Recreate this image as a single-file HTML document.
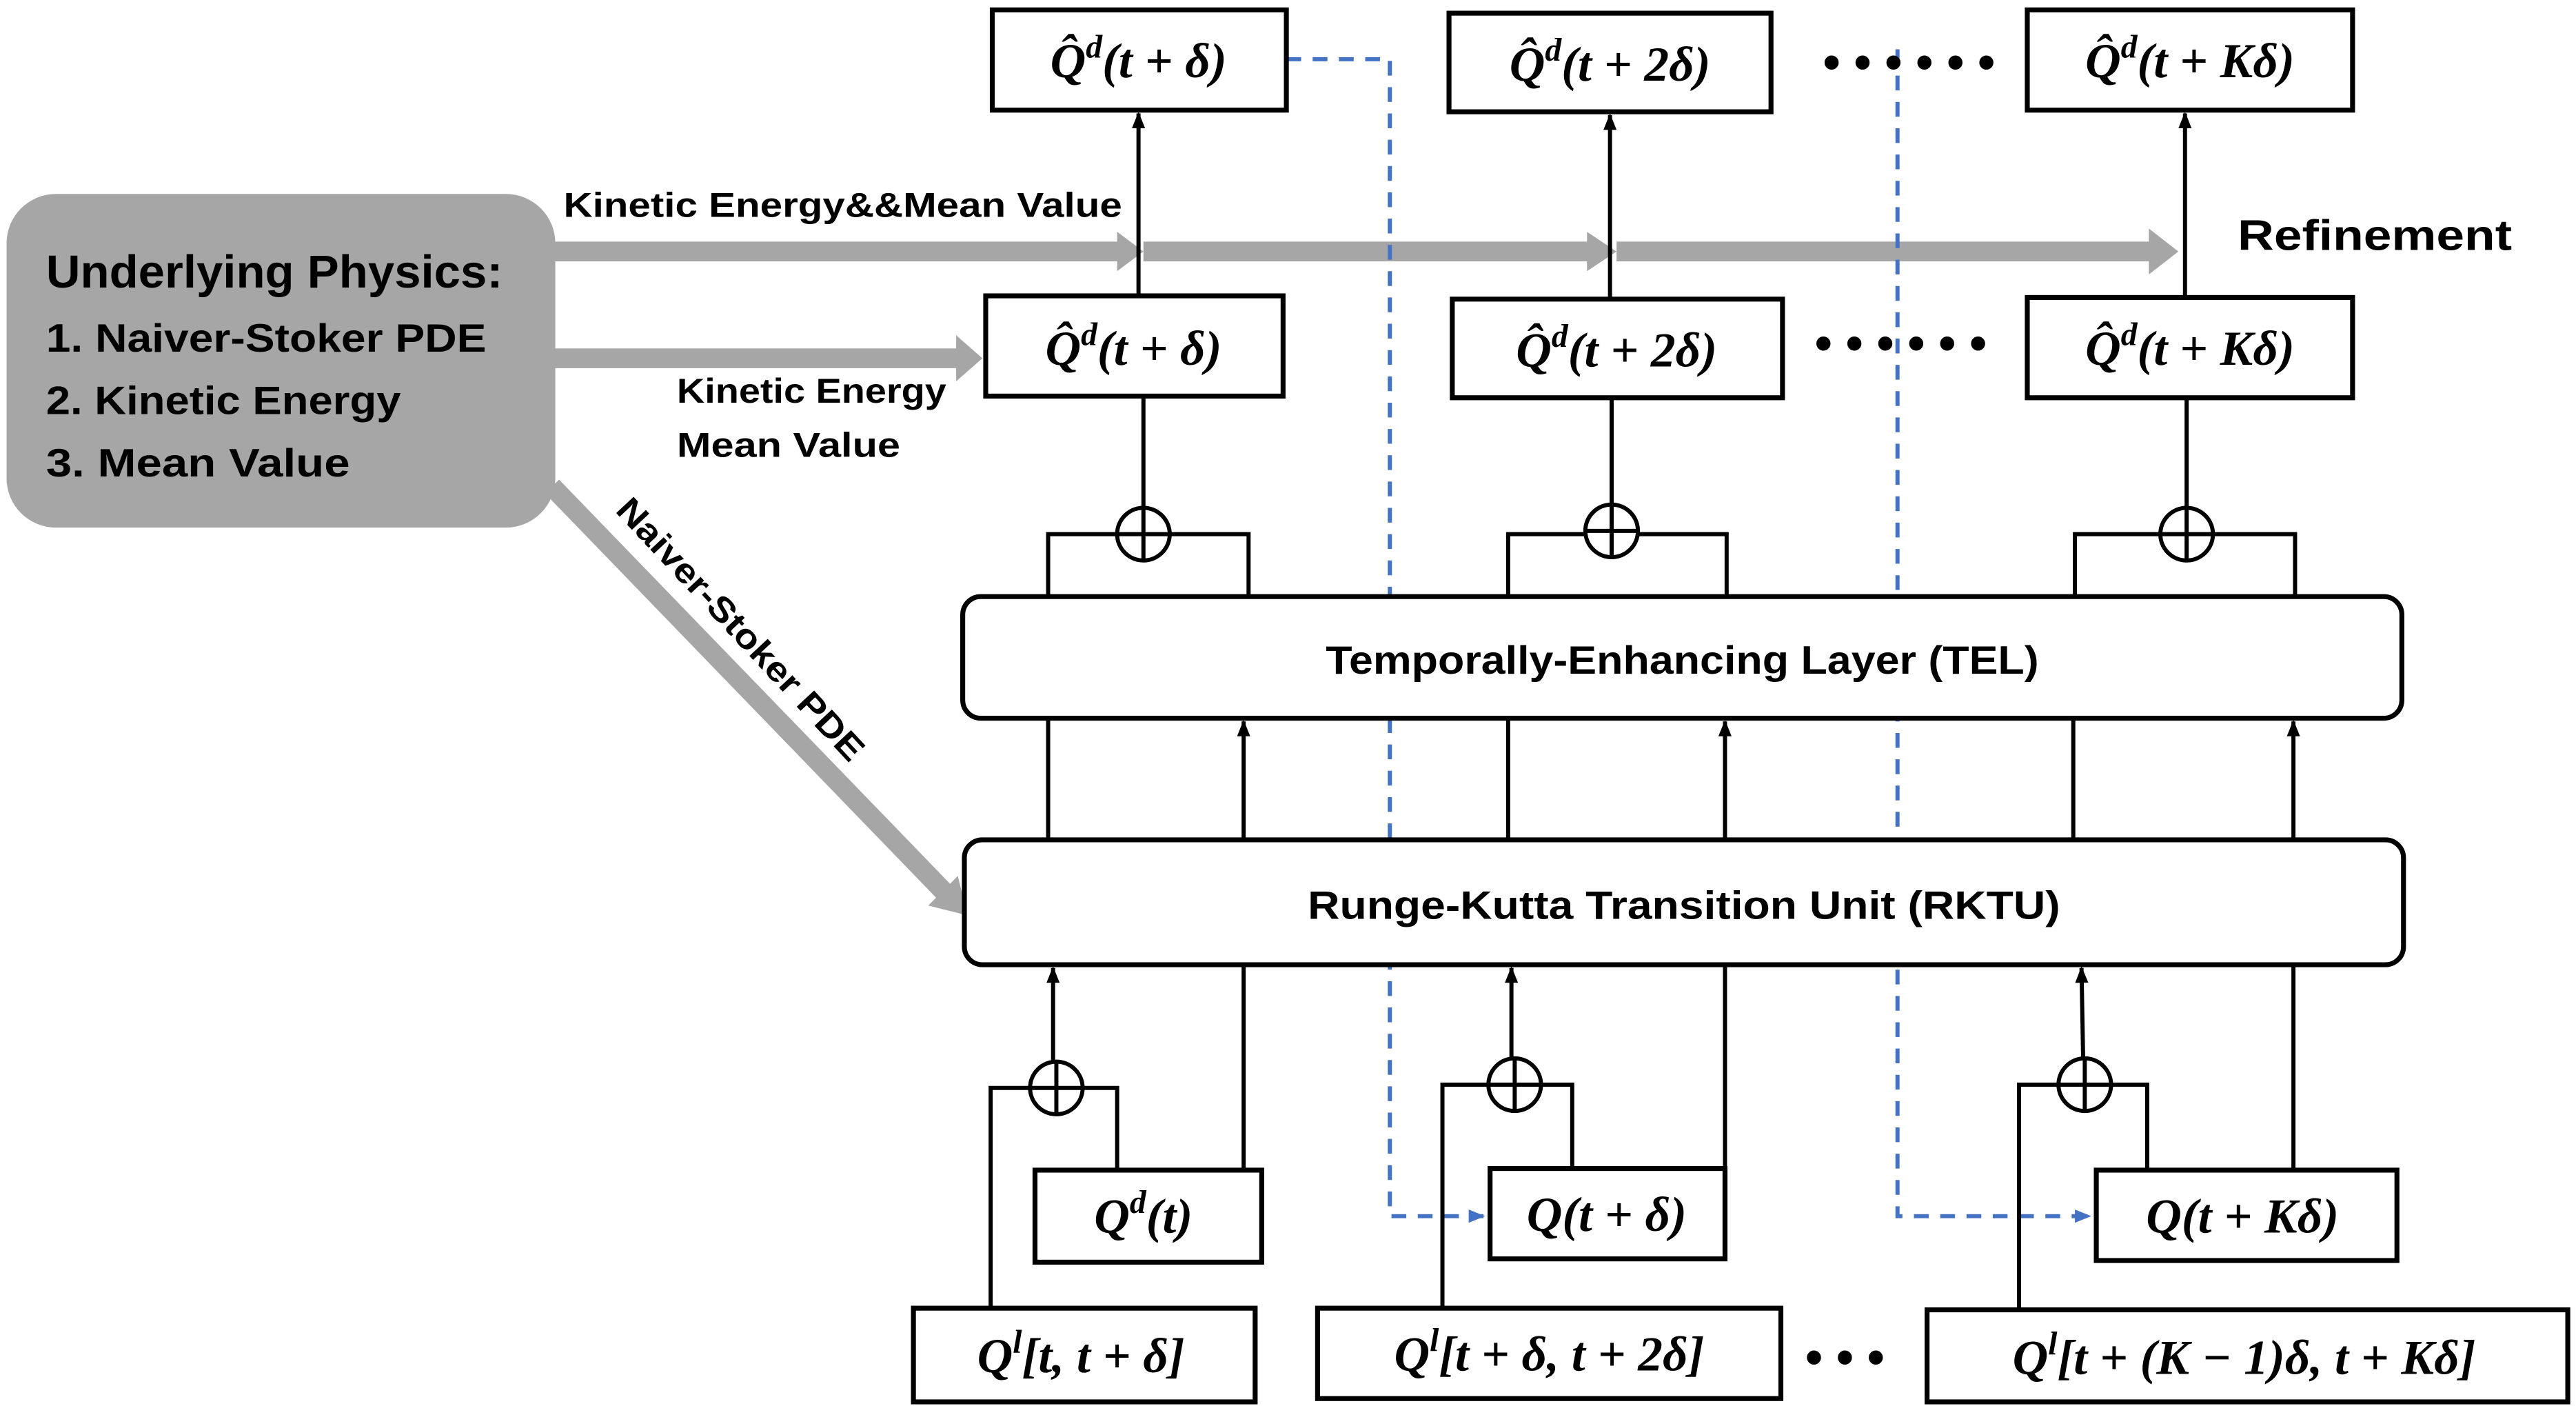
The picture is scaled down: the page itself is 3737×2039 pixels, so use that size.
<!DOCTYPE html>
<html><head><meta charset="utf-8"><style>
html,body{margin:0;padding:0;background:#fff;}
svg{display:block;}
.s{font-family:"Liberation Sans","DejaVu Sans",sans-serif;font-weight:bold;fill:#000;}
.m{font-family:"Liberation Serif","DejaVu Serif",serif;font-weight:bold;font-style:italic;fill:#000;font-size:30px;}
.b{fill:#fff;stroke:#000;stroke-width:3;}
.l{stroke:#000;stroke-width:2.5;fill:none;}
</style></head><body>
<svg width="3737" height="2039" viewBox="0 0 1568 855.5" xmlns="http://www.w3.org/2000/svg">
<defs>
<marker id="a" markerWidth="10" markerHeight="10" refX="9" refY="5" orient="auto" markerUnits="userSpaceOnUse"><path d="M0,1 L10,5 L0,9 Z" fill="#000"/></marker>
<marker id="bl" markerWidth="10" markerHeight="10" refX="9" refY="5" orient="auto" markerUnits="userSpaceOnUse"><path d="M0,1 L10,5 L0,9 Z" fill="#4472c4"/></marker>
</defs>
<!-- gray arrows -->
<g fill="#a6a6a6">
<rect x="330" y="147" width="352" height="12"/>
<path d="M680,141 L696,153 L680,165 Z"/>
<rect x="696" y="147" width="272" height="12"/>
<path d="M966,141 L984,153 L966,165 Z"/>
<rect x="984" y="147" width="326" height="12"/>
<path d="M1308,139 L1326,153 L1308,167 Z"/>
<rect x="330" y="212" width="254" height="12"/>
<path d="M582,204 L598,218 L582,232 Z"/>
<line x1="336" y1="296" x2="576" y2="544" stroke="#a6a6a6" stroke-width="12"/>
<path d="M565,551 L583,533 L589,557 Z"/>
<rect x="4" y="118" width="334" height="203" rx="30" ry="30"/>
</g>
<text class="s" x="28" y="175" font-size="28" textLength="278" lengthAdjust="spacingAndGlyphs">Underlying Physics:</text>
<text class="s" x="28" y="214" font-size="24" textLength="268" lengthAdjust="spacingAndGlyphs">1. Naiver-Stoker PDE</text>
<text class="s" x="28" y="252" font-size="24" textLength="216" lengthAdjust="spacingAndGlyphs">2. Kinetic Energy</text>
<text class="s" x="28" y="290" font-size="24" textLength="185" lengthAdjust="spacingAndGlyphs">3. Mean Value</text>
<text class="s" x="343" y="132" font-size="21" textLength="340" lengthAdjust="spacingAndGlyphs">Kinetic Energy&amp;&amp;Mean Value</text>
<text class="s" x="412" y="245" font-size="21" textLength="164" lengthAdjust="spacingAndGlyphs">Kinetic Energy</text>
<text class="s" x="412" y="278" font-size="21" textLength="136" lengthAdjust="spacingAndGlyphs">Mean Value</text>
<text class="s" x="1362" y="152" font-size="26" textLength="167" lengthAdjust="spacingAndGlyphs">Refinement</text>
<text class="s" font-size="21" transform="translate(374,311) rotate(47)" textLength="210" lengthAdjust="spacingAndGlyphs">Naiver-Stoker PDE</text>

<!-- dashed blue -->
<path d="M783,36 H846 V740 H903" stroke="#4472c4" stroke-width="2.5" stroke-dasharray="9,7" fill="none" marker-end="url(#bl)"/>
<path d="M1155,30 V740 H1272" stroke="#4472c4" stroke-width="2.5" stroke-dasharray="9,7" fill="none" marker-end="url(#bl)"/>

<!-- top boxes -->
<rect class="b" x="604" y="6" width="179" height="61"/>
<text class="m" x="693" y="47" text-anchor="middle">Q̂<tspan font-size="20" dy="-12">d</tspan><tspan dy="12">(t + δ)</tspan></text>
<rect class="b" x="882" y="8" width="196" height="60"/>
<text class="m" x="980" y="49" text-anchor="middle">Q̂<tspan font-size="20" dy="-12">d</tspan><tspan dy="12">(t + 2δ)</tspan></text>
<rect class="b" x="1234" y="6" width="198" height="61"/>
<text class="m" x="1333" y="47" text-anchor="middle">Q̂<tspan font-size="20" dy="-12">d</tspan><tspan dy="12">(t + Kδ)</tspan></text>
<text x="1162" y="48" font-size="30" text-anchor="middle" font-family="Liberation Sans" font-weight="bold">• • • • • •</text>

<rect class="b" x="600" y="180" width="181" height="61"/>
<text class="m" x="690" y="222" text-anchor="middle">Q̂<tspan font-size="20" dy="-12">d</tspan><tspan dy="12">(t + δ)</tspan></text>
<rect class="b" x="884" y="182" width="201" height="60"/>
<text class="m" x="984" y="223" text-anchor="middle">Q̂<tspan font-size="20" dy="-12">d</tspan><tspan dy="12">(t + 2δ)</tspan></text>
<rect class="b" x="1234" y="181" width="198" height="61"/>
<text class="m" x="1333" y="222" text-anchor="middle">Q̂<tspan font-size="20" dy="-12">d</tspan><tspan dy="12">(t + Kδ)</tspan></text>
<text x="1157" y="219" font-size="30" text-anchor="middle" font-family="Liberation Sans" font-weight="bold">• • • • • •</text>

<!-- vertical arrows between rows -->
<line class="l" x1="693" y1="180" x2="693" y2="69" marker-end="url(#a)"/>
<line class="l" x1="980" y1="182" x2="980" y2="70" marker-end="url(#a)"/>
<line class="l" x1="1330" y1="181" x2="1330" y2="69" marker-end="url(#a)"/>

<!-- upper oplus groups -->
<g class="l">
<path d="M638,363 V325 H760 V363"/><line x1="696" y1="241" x2="696" y2="309"/>
<path d="M918,363 V325 H1051 V363"/><line x1="981" y1="242" x2="981" y2="307"/>
<path d="M1263,363 V325 H1397 V363"/><line x1="1331" y1="242" x2="1331" y2="309"/>
</g>
<g class="l" fill="#fff">
<circle cx="696" cy="325" r="16" fill="#fff"/><path d="M680,325 H712 M696,309 V341"/>
<circle cx="981" cy="323" r="16" fill="#fff"/><path d="M965,323 H997 M981,307 V339"/>
<circle cx="1331" cy="325" r="16" fill="#fff"/><path d="M1315,325 H1347 M1331,309 V341"/>
</g>

<rect class="b" x="586" y="363" width="876" height="74" rx="11"/>
<text class="s" x="1024" y="410" font-size="24" text-anchor="middle" textLength="434" lengthAdjust="spacingAndGlyphs">Temporally-Enhancing Layer (TEL)</text>
<rect class="b" x="587" y="511" width="876" height="76" rx="11"/>
<text class="s" x="1025" y="559" font-size="24" text-anchor="middle" textLength="458" lengthAdjust="spacingAndGlyphs">Runge-Kutta Transition Unit (RKTU)</text>

<!-- between TEL and RKTU -->
<g class="l">
<line x1="638" y1="511" x2="638" y2="437"/>
<line x1="757" y1="511" x2="757" y2="439" marker-end="url(#a)"/>
<line x1="918" y1="511" x2="918" y2="437"/>
<line x1="1050" y1="511" x2="1050" y2="439" marker-end="url(#a)"/>
<line x1="1262" y1="511" x2="1262" y2="437"/>
<line x1="1396" y1="511" x2="1396" y2="439" marker-end="url(#a)"/>
</g>

<!-- lower -->
<g class="l">
<line x1="641" y1="646" x2="641" y2="589" marker-end="url(#a)"/>
<path d="M603,796 V662 H680 V712"/>
<line x1="757" y1="587" x2="757" y2="712"/>
<line x1="920" y1="644" x2="920" y2="589" marker-end="url(#a)"/>
<path d="M878,796 V660 H957 V711"/>
<line x1="1050" y1="587" x2="1050" y2="711"/>
<line x1="1268" y1="644" x2="1267" y2="589" marker-end="url(#a)"/>
<path d="M1229,797 V660 H1307 V712"/>
<line x1="1396" y1="587" x2="1396" y2="712"/>
</g>
<g class="l">
<circle cx="643" cy="662" r="16" fill="#fff"/><path d="M627,662 H659 M643,646 V678"/>
<circle cx="922" cy="660" r="16" fill="#fff"/><path d="M906,660 H938 M922,644 V676"/>
<circle cx="1269" cy="660" r="16" fill="#fff"/><path d="M1253,660 H1285 M1269,644 V676"/>
</g>

<rect class="b" x="630" y="712" width="138" height="56"/>
<text class="m" x="696" y="750" text-anchor="middle">Q<tspan font-size="20" dy="-12">d</tspan><tspan dy="12">(t)</tspan></text>
<rect class="b" x="907" y="711" width="143" height="55"/>
<text class="m" x="978" y="749" text-anchor="middle">Q(t + δ)</text>
<rect class="b" x="1276" y="712" width="183" height="55"/>
<text class="m" x="1365" y="750" text-anchor="middle">Q(t + Kδ)</text>

<rect class="b" x="556" y="796" width="208" height="57"/>
<text class="m" x="658" y="835" text-anchor="middle">Q<tspan font-size="20" dy="-12">l</tspan><tspan dy="12">[t, t + δ]</tspan></text>
<rect class="b" x="802" y="796" width="282" height="55"/>
<text class="m" x="943" y="834" text-anchor="middle">Q<tspan font-size="20" dy="-12">l</tspan><tspan dy="12">[t + δ, t + 2δ]</tspan></text>
<rect class="b" x="1173" y="797" width="390" height="56"/>
<text class="m" x="1366" y="836" text-anchor="middle">Q<tspan font-size="20" dy="-12">l</tspan><tspan dy="12">[t + (K − 1)δ, t + Kδ]</tspan></text>
<text x="1123" y="836" font-size="30" text-anchor="middle" font-family="Liberation Sans" font-weight="bold">• • •</text>
</svg>
</body></html>
